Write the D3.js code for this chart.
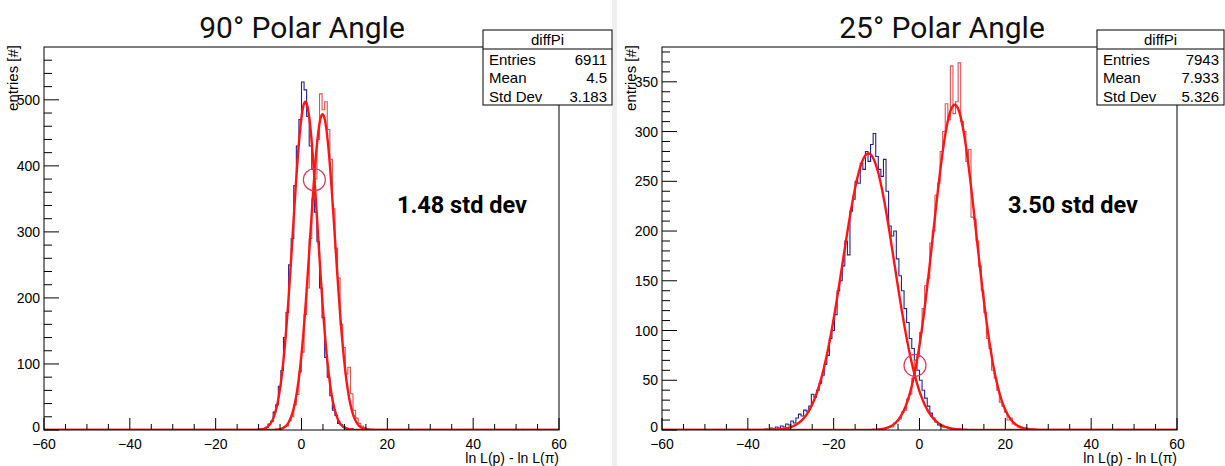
<!DOCTYPE html>
<html><head><meta charset="utf-8">
<script src="https://cdn.jsdelivr.net/npm/d3@7"></script>
<style>body{margin:0;background:#fff}svg{display:block}</style>
</head><body><svg id="c" width="1225" height="466"></svg>
<script>
// ---------- data ----------
const titles = ["90° Polar Angle", "25° Polar Angle"];
const xTicks = [-60, -40, -20, 0, 20, 40, 60];
const leftYTicks = [0, 100, 200, 300, 400, 500];
const rightYTicks = [0, 50, 100, 150, 200, 250, 300, 350];
const xDomain = [-60, 60];
const leftYMax = 580;
const rightYMax = 385;
const binWidth = 0.6;

const leftBlueStart = -10.2;
const leftBlueCounts = [1,1,2,4,9,13,27,38,66,90,140,178,250,290,370,430,470,527,515,475,430,395,330,285,215,170,110,80,52,30,22,10,8,5,3,1,2];
const leftRedStart = -6.0;
const leftRedCounts = [1,0,2,5,6,14,20,38,54,88,118,175,215,290,350,380,440,509,485,497,455,410,335,275,230,160,125,85,95,55,30,18,10,6,4,2,1,1];
const rightBlueStart = -36.0;
const rightBlueCounts = [1,0,2,1,3,2,4,3,6,5,9,7,12,16,14,20,19,24,36,33,40,47,55,66,75,92,100,116,140,150,165,190,176,220,232,250,248,268,262,280,270,287,298,275,262,255,272,240,205,195,200,172,155,140,122,108,92,82,70,60,50,40,32,24,17,12,8,5,4,3,3,2,1,1,0,1];
const rightRedStart = -9.0;
const rightRedCounts = [1,0,2,3,3,7,9,11,18,20,31,36,52,70,74,98,122,145,152,188,200,236,248,280,300,328,312,366,318,330,369,310,300,270,282,214,212,190,165,140,118,92,82,60,52,40,28,24,18,10,12,6,5,3,2,1,2,1,0,1];

// gaussian fit parameters [blue fit, red fit]
const leftFitAmp = [497, 478];
const leftFitMean = [0.9, 4.9];
const leftFitSigma = [2.9, 2.9];
const rightFitAmp = [278, 327];
const rightFitMean = [-11.9, 8.2];
const rightFitSigma = [6.0, 5.0];

const statsTitle = "diffPi";
const statsLabels = ["Entries", "Mean", "Std Dev"];
const leftStats = ["6911", "4.5", "3.183"];
const rightStats = ["7943", "7.933", "5.326"];
const separationLabels = ["1.48 std dev", "3.50 std dev"];
const leftCrossing = [3.0, 379];
const rightCrossing = [-1.05, 65];
const yAxisTitle = "entries [#]";
const xAxisTitle = "ln L(p) - ln L(π)";

// ---------- drawing ----------
const svg = d3.select("#c");
const SANS = "Liberation Sans, Arial, sans-serif";
svg.append("rect").attr("x",0).attr("y",0).attr("width",1225).attr("height",466).attr("fill","#fff");
svg.append("rect").attr("x",612).attr("y",0).attr("width",5).attr("height",466).attr("fill","#efefef");

function fullBins(start, counts){
  const n = Math.round((xDomain[1]-xDomain[0])/binWidth);
  const arr = new Array(n).fill(0);
  const off = Math.round((start - xDomain[0])/binWidth);
  counts.forEach((c,i)=>{ arr[off+i] = c; });
  return arr;
}

function panel(o){
  const g = svg.append("g");
  const x = d3.scaleLinear().domain(xDomain).range([o.left, o.right]);
  const y = d3.scaleLinear().domain([0, o.ymax]).range([o.bottom, o.top]);
  const clipId = "clip" + o.id;
  svg.append("clipPath").attr("id", clipId).append("rect")
    .attr("x", o.left).attr("y", o.top).attr("width", o.right-o.left).attr("height", o.bottom-o.top);

  g.append("text").attr("x", o.titleX).attr("y", 38).attr("text-anchor","middle")
    .attr("font-family","Roboto, sans-serif").attr("font-size", 30).attr("fill","#111").text(o.title);

  const plot = g.append("g").attr("clip-path", `url(#${clipId})`);
  const line = d3.line().x(d=>x(d[0])).y(d=>y(d[1]));
  function hist(start, counts, color, w){
    const bins = fullBins(start, counts);
    const pts = [[xDomain[0],0]];
    bins.forEach((c,k)=>{ const e0 = xDomain[0]+k*binWidth; pts.push([e0,c],[e0+binWidth,c]); });
    pts.push([xDomain[1],0]);
    plot.append("path").attr("d", line(pts)).attr("fill","none").attr("stroke",color).attr("stroke-width",w);
  }
  hist(o.blueStart, o.blueCounts, "#22228c", 1.1);
  hist(o.redStart, o.redCounts, "#e0524f", 1.1);

  const xs = d3.range(0, 1201).map(i => xDomain[0] + i*(xDomain[1]-xDomain[0])/1200);
  o.amp.forEach((A,i)=>{
    const mu = o.mean[i], s = o.sigma[i];
    const pts = xs.map(v => [v, A*Math.exp(-0.5*((v-mu)/s)**2)]);
    plot.append("path").attr("d", line(pts)).attr("fill","none").attr("stroke","#ff1414").attr("stroke-width",2.4);
  });

  g.append("circle").attr("cx", x(o.cross[0])).attr("cy", y(o.cross[1])).attr("r", 11)
    .attr("fill","none").attr("stroke","#dc3a5c").attr("stroke-width",1.2);

  g.append("rect").attr("x",o.left).attr("y",o.top).attr("width",o.right-o.left).attr("height",o.bottom-o.top)
    .attr("fill","none").attr("stroke","#000").attr("stroke-width",1);

  const minorX = d3.range(xDomain[0], xDomain[1]+0.001, 5);
  g.selectAll(null).data(minorX).enter().append("line")
    .attr("x1",d=>x(d)).attr("x2",d=>x(d)).attr("y1",o.bottom).attr("y2",d=> xTicks.includes(d)? o.bottom-12 : o.bottom-6)
    .attr("stroke","#000").attr("stroke-width",1);
  g.selectAll(null).data(xTicks).enter().append("text")
    .attr("x",d=>x(d)).attr("y",o.bottom+19).attr("text-anchor","middle")
    .attr("font-family",SANS).attr("font-size",14).attr("fill","#000")
    .text(d=>d3.format("d")(d));
  const minorY = d3.range(0, o.ymax, o.yMinor);
  g.selectAll(null).data(minorY).enter().append("line")
    .attr("x1",o.left).attr("x2",d=> o.yTicks.includes(d)? o.left+15 : o.left+8)
    .attr("y1",d=>y(d)).attr("y2",d=>y(d)).attr("stroke","#000").attr("stroke-width",1);
  g.selectAll(null).data(o.yTicks).enter().append("text")
    .attr("x",o.left-4).attr("y",d=>y(d)+(d===0?2:5)).attr("text-anchor","end")
    .attr("font-family",SANS).attr("font-size",14).attr("fill","#000")
    .text(d=>d);
  g.append("text").attr("transform",`translate(${o.left-26},${o.top-2}) rotate(-90)`).attr("text-anchor","end")
    .attr("font-family",SANS).attr("font-size",15).attr("fill","#000").text(yAxisTitle);
  g.append("text").attr("x",o.right).attr("y",463).attr("text-anchor","end")
    .attr("font-family",SANS).attr("font-size",14).attr("fill","#000").text(xAxisTitle);

  g.append("text").attr("x",o.sepX).attr("y",213).attr("font-family","Roboto, sans-serif").attr("font-weight","bold")
    .attr("font-size",23.5).attr("fill","#000").text(o.sep);

  const bx = o.boxX, by = 30, bw = o.boxW, bh = 75;
  const sb = g.append("g");
  sb.append("rect").attr("x",bx).attr("y",by).attr("width",bw).attr("height",bh).attr("fill","#fff").attr("stroke","#000");
  sb.append("line").attr("x1",bx).attr("x2",bx+bw).attr("y1",by+19).attr("y2",by+19).attr("stroke","#000");
  sb.append("text").attr("x",bx+bw/2).attr("y",by+15).attr("text-anchor","middle")
    .attr("font-family",SANS).attr("font-size",15).text(statsTitle);
  statsLabels.forEach((lab,i)=>{
    const ty = by + 35 + i*18.3;
    sb.append("text").attr("x",bx+6).attr("y",ty).attr("font-family",SANS).attr("font-size",15).text(lab);
    sb.append("text").attr("x",bx+bw-5).attr("y",ty).attr("text-anchor","end").attr("font-family",SANS).attr("font-size",15).text(o.stats[i]);
  });
}

panel({id:"L", title:titles[0], titleX:302, left:44, right:559, top:47, bottom:430, ymax:leftYMax,
  yTicks:leftYTicks, yMinor:20, blueStart:leftBlueStart, blueCounts:leftBlueCounts, redStart:leftRedStart, redCounts:leftRedCounts,
  amp:leftFitAmp, mean:leftFitMean, sigma:leftFitSigma, cross:leftCrossing, sep:separationLabels[0], sepX:397,
  boxX:483, boxW:129, stats:leftStats});
panel({id:"R", title:titles[1], titleX:942, left:662, right:1177, top:47, bottom:430, ymax:rightYMax,
  yTicks:rightYTicks, yMinor:10, blueStart:rightBlueStart, blueCounts:rightBlueCounts, redStart:rightRedStart, redCounts:rightRedCounts,
  amp:rightFitAmp, mean:rightFitMean, sigma:rightFitSigma, cross:rightCrossing, sep:separationLabels[1], sepX:1008,
  boxX:1097, boxW:127, stats:rightStats});
</script>
</body></html>
